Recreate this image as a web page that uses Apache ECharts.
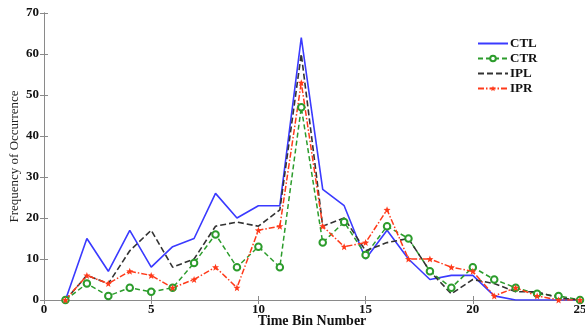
<!DOCTYPE html>
<html>
<head>
<meta charset="utf-8">
<script src="https://cdn.jsdelivr.net/npm/echarts@6/dist/echarts.min.js"></script>
<style>html,body{margin:0;padding:0;background:#fff;}#c{width:585px;height:328px;}</style>
</head>
<body>
<div id="c"></div>
<script>
var bins = [1,2,3,4,5,6,7,8,9,10,11,12,13,14,15,16,17,18,19,20,21,22,23,24,25];
var CTL = [0,15,7,17,8,13,15,26,20,23,23,64,27,23,10,17,10,5,6,6,1,0,0,0,0];
var CTR = [0,4,1,3,2,3,9,16,8,13,8,47,14,19,11,18,15,7,3,8,5,3,1.5,1,0];
var IPL = [0,6,4,12,17,8,10,18,19,18,22,60,18,20,12,14,15,7,1.5,5,4,2,2,0.5,0];
var IPR = [0,6,4,7,6,3,5,8,3,17,18,53,18,13,14,22,10,10,8,7,1,3,1,0,0];
var xTicks = [0,5,10,15,20,25];
var yTicks = [0,10,20,30,40,50,60,70];

function pairs(v){ return bins.map(function(b,i){ return [b, v[i]]; }); }
var serif = '"Liberation Serif", "DejaVu Serif", serif';
var star = 'path://M0,-10 L2.5,-3.5 L9.5,-3.1 L4,1.2 L5.9,8.1 L0,4.2 L-5.9,8.1 L-4,1.2 L-9.5,-3.1 L-2.5,-3.5 Z';

var chart = echarts.init(document.getElementById('c'), null, {renderer:'canvas'});
var axisLine = {show:true, lineStyle:{color:'#8a8a8a', width:1}};
var tick = {show:true, inside:true, length:4, lineStyle:{color:'#8a8a8a'}};
var hide = {color:'rgba(0,0,0,0)', borderColor:'rgba(0,0,0,0)', borderWidth:0};
chart.setOption({
  animation:false,
  backgroundColor:'#fff',
  grid:{left:44, right:5, top:13, bottom:28, containLabel:false, outerBoundsMode:'none'},
  legend:{
    orient:'vertical', left:472, top:32, itemWidth:30, itemHeight:7, itemGap:2,
    textStyle:{fontFamily:serif, fontWeight:'bold', fontSize:13, color:'#111', padding:[0,0,0,-3]},
    data:[
      {name:'CTL', itemStyle:hide},
      {name:'CTR'},
      {name:'IPL', itemStyle:hide},
      {name:'IPR'}
    ]
  },
  xAxis:[{
    type:'value', min:0, max:25, interval:5,
    name:'Time Bin Number', nameLocation:'middle', nameGap:14, nameMoveOverlap:false,
    nameTextStyle:{fontFamily:serif, fontWeight:'bold', fontSize:14, color:'#111'},
    axisLine:axisLine, axisTick:tick,
    axisLabel:{fontFamily:serif, fontWeight:'bold', fontSize:13, color:'#111', margin:3,
      customValues: xTicks},
    splitLine:{show:false}
  },{
    type:'value', min:0, max:25, interval:5, position:'top',
    axisLine:axisLine, axisTick:tick,
    axisLabel:{show:false}, splitLine:{show:false}
  }],
  yAxis:[{
    type:'value', min:0, max:70, interval:10,
    name:'Frequency of Occurrence', nameLocation:'middle', nameGap:23, nameMoveOverlap:false,
    nameTextStyle:{fontFamily:serif, fontSize:13, color:'#222'},
    axisLine:axisLine, axisTick:tick,
    axisLabel:{fontFamily:serif, fontWeight:'bold', fontSize:13, color:'#111', margin:5,
      customValues: yTicks},
    splitLine:{show:false}
  },{
    type:'value', min:0, max:70, interval:10, position:'right',
    axisLine:axisLine, axisTick:tick,
    axisLabel:{show:false}, splitLine:{show:false}
  }],
  series:[
    {name:'CTL', type:'line', data:pairs(CTL), showSymbol:false, symbol:'none',
      lineStyle:{color:'#3a3aff', width:1.6, type:'solid'}, itemStyle:{color:'#3a3aff'}},
    {name:'CTR', type:'line', data:pairs(CTR), symbol:'emptyCircle', symbolSize:6.5,
      lineStyle:{color:'#2c9c2c', width:1.5, type:[5,3]}, itemStyle:{color:'#2c9c2c', borderColor:'#2c9c2c', borderWidth:1.5}},
    {name:'IPL', type:'line', data:pairs(IPL), showSymbol:false, symbol:'none',
      lineStyle:{color:'#333', width:1.6, type:[6,3]}, itemStyle:{color:'#333'}},
    {name:'IPR', type:'line', data:pairs(IPR), symbol:star, symbolSize:7,
      lineStyle:{color:'#ff3a1a', width:1.5, type:[6,2,1.5,2]}, itemStyle:{color:'#ff3a1a'}}
  ]
});
</script>
</body>
</html>
